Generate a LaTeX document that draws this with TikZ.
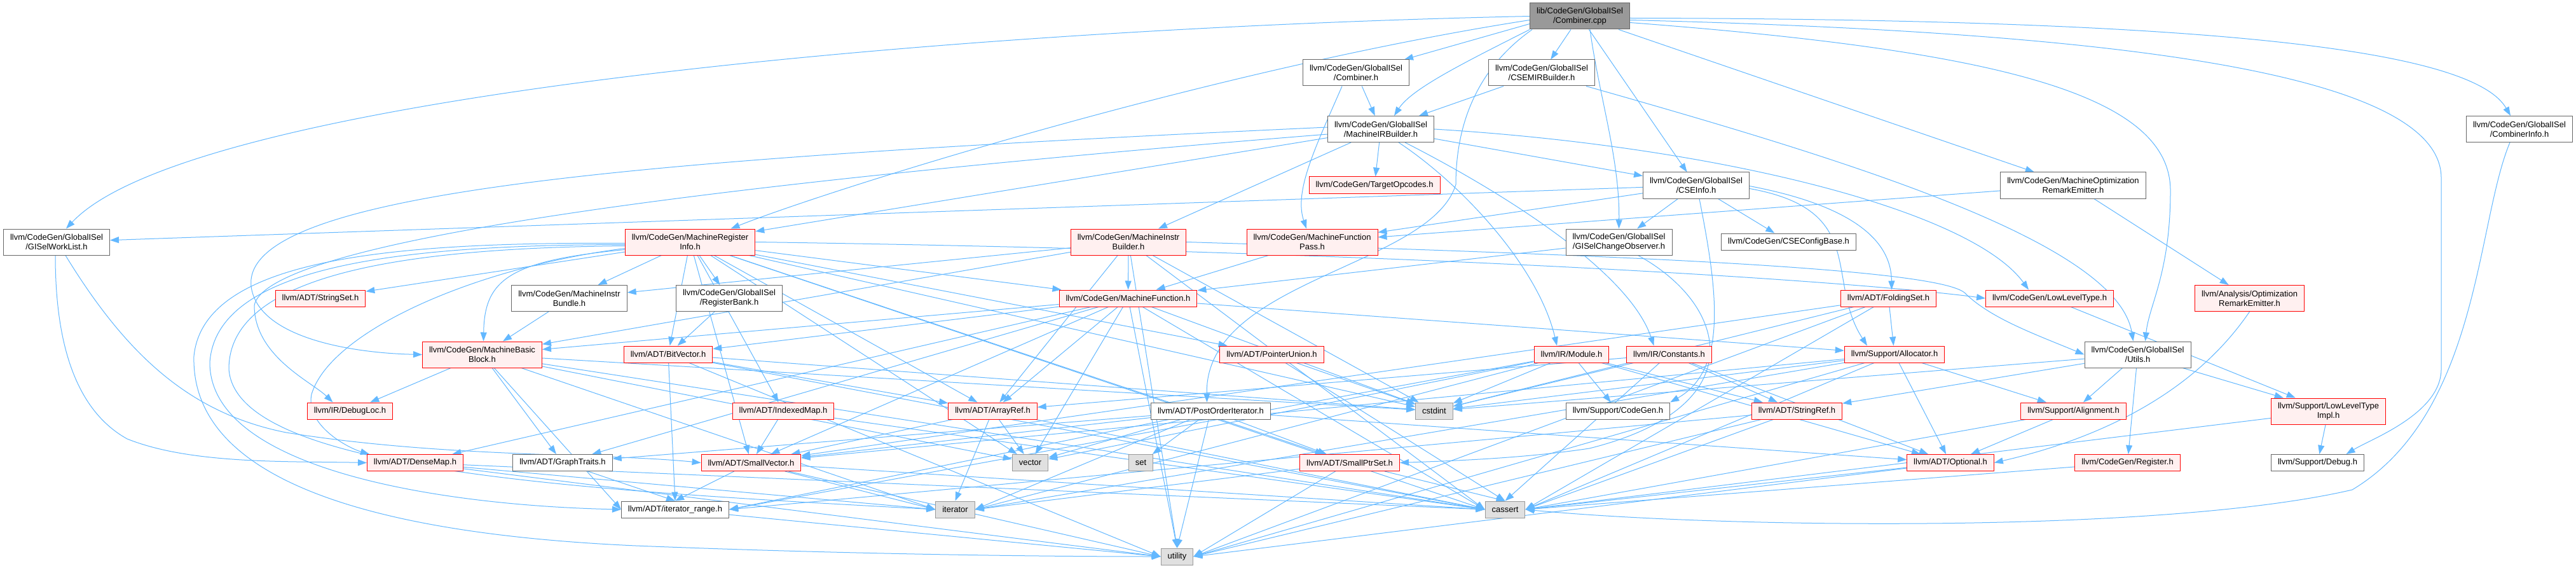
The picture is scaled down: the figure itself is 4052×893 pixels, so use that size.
\documentclass[tikz,border=0pt]{standalone}
\usepackage{fontspec}
\setmainfont{Liberation Sans}
\usetikzlibrary{arrows.meta,backgrounds}
\definecolor{edgec}{HTML}{63B8FF}
\definecolor{redfill}{HTML}{FFF0F0}
\definecolor{redline}{HTML}{FF0000}
\definecolor{leaffill}{HTML}{E0E0E0}
\definecolor{leafline}{HTML}{999999}
\definecolor{grayline}{HTML}{666666}
\definecolor{mainfill}{HTML}{999999}
\begin{document}
\begin{tikzpicture}[x=1pt,y=-1pt,
  box/.style={draw, line width=1pt, inner xsep=10.5pt, inner ysep=0pt, align=center, font=\fontsize{13}{15}\selectfont},
  oneline/.style={box, minimum height=26pt},
  twoline/.style={box, minimum height=41pt},
  rednode/.style={fill=redfill, draw=redline},
  whitenode/.style={fill=white, draw=grayline},
  leafnode/.style={fill=leaffill, draw=leafline},
  mainnode/.style={fill=mainfill, draw=grayline},
  dep/.style={draw=edgec, line width=1pt, -{Triangle[length=14pt,width=10pt]}},
]
\useasboundingbox (0,0) rectangle (4052,893);
\node[twoline,mainnode] (main) at (2485,25.5) {lib/CodeGen/GlobalISel\\/Combiner.cpp};
\node[twoline,whitenode] (combh) at (2133,114.5) {llvm/CodeGen/GlobalISel\\/Combiner.h};
\node[twoline,whitenode] (csemir) at (2425,114.5) {llvm/CodeGen/GlobalISel\\/CSEMIRBuilder.h};
\node[twoline,whitenode] (mirb) at (2172,203) {llvm/CodeGen/GlobalISel\\/MachineIRBuilder.h};
\node[twoline,whitenode] (cinfo) at (3963,203) {llvm/CodeGen/GlobalISel\\/CombinerInfo.h};
\node[oneline,rednode] (tgtop) at (2162,291) {llvm/CodeGen/TargetOpcodes.h};
\node[twoline,whitenode] (cseinfo) at (2668,291.5) {llvm/CodeGen/GlobalISel\\/CSEInfo.h};
\node[twoline,whitenode] (more) at (3261,291.5) {llvm/CodeGen/MachineOptimization\\RemarkEmitter.h};
\node[twoline,whitenode] (wl) at (89,380.5) {llvm/CodeGen/GlobalISel\\/GISelWorkList.h};
\node[twoline,rednode] (mri) at (1085.5,380.5) {llvm/CodeGen/MachineRegister\\Info.h};
\node[twoline,rednode] (mib) at (1775,380.5) {llvm/CodeGen/MachineInstr\\Builder.h};
\node[twoline,rednode] (mfp) at (2064,380.5) {llvm/CodeGen/MachineFunction\\Pass.h};
\node[twoline,whitenode] (gco) at (2546.5,380.5) {llvm/CodeGen/GlobalISel\\/GISelChangeObserver.h};
\node[oneline,whitenode] (csecfg) at (2813.5,380) {llvm/CodeGen/CSEConfigBase.h};
\node[oneline,rednode] (strset) at (504,469) {llvm/ADT/StringSet.h};
\node[twoline,whitenode] (mibundle) at (895.5,469) {llvm/CodeGen/MachineInstr\\Bundle.h};
\node[twoline,whitenode] (regbank) at (1147,469) {llvm/CodeGen/GlobalISel\\/RegisterBank.h};
\node[oneline,rednode] (mf) at (1774.5,469) {llvm/CodeGen/MachineFunction.h};
\node[oneline,rednode] (fold) at (2970.5,469) {llvm/ADT/FoldingSet.h};
\node[oneline,rednode] (llt) at (3224,469) {llvm/CodeGen/LowLevelType.h};
\node[twoline,rednode] (ore) at (3538.5,469) {llvm/Analysis/Optimization\\RemarkEmitter.h};
\node[twoline,rednode] (mbb) at (758.5,557.5) {llvm/CodeGen/MachineBasic\\Block.h};
\node[oneline,rednode] (bitvec) at (1051,557) {llvm/ADT/BitVector.h};
\node[oneline,rednode] (punion) at (2000.5,557) {llvm/ADT/PointerUnion.h};
\node[oneline,rednode] (module) at (2472,557) {llvm/IR/Module.h};
\node[oneline,rednode] (const) at (2625.5,557) {llvm/IR/Constants.h};
\node[oneline,rednode] (alloc) at (2980,557) {llvm/Support/Allocator.h};
\node[twoline,whitenode] (utils) at (3362.5,557.5) {llvm/CodeGen/GlobalISel\\/Utils.h};
\node[oneline,rednode] (dbgloc) at (550.5,646) {llvm/IR/DebugLoc.h};
\node[oneline,rednode] (idxmap) at (1232,646) {llvm/ADT/IndexedMap.h};
\node[oneline,rednode] (aref) at (1561.5,646) {llvm/ADT/ArrayRef.h};
\node[oneline,whitenode] (poi) at (1904.5,646) {llvm/ADT/PostOrderIterator.h};
\node[oneline,leafnode] (cstdint) at (2256,646) {cstdint};
\node[oneline,whitenode] (cgen) at (2545,646) {llvm/Support/CodeGen.h};
\node[oneline,rednode] (sref) at (2826.5,646) {llvm/ADT/StringRef.h};
\node[oneline,rednode] (align) at (3261.5,646) {llvm/Support/Alignment.h};
\node[twoline,rednode] (lltimpl) at (3662.5,646.5) {llvm/Support/LowLevelType\\Impl.h};
\node[oneline,rednode] (dmap) at (653,727.5) {llvm/ADT/DenseMap.h};
\node[oneline,whitenode] (gtraits) at (885,727.5) {llvm/ADT/GraphTraits.h};
\node[oneline,rednode] (svec) at (1181.5,727.5) {llvm/ADT/SmallVector.h};
\node[oneline,leafnode] (vector) at (1620.5,727.5) {vector};
\node[oneline,leafnode] (set) at (1794.5,727.5) {set};
\node[oneline,rednode] (sptrset) at (2123,727.5) {llvm/ADT/SmallPtrSet.h};
\node[oneline,rednode] (optional) at (3068,727.5) {llvm/ADT/Optional.h};
\node[oneline,rednode] (register) at (3346.5,727.5) {llvm/CodeGen/Register.h};
\node[oneline,whitenode] (debug) at (3645.5,727.5) {llvm/Support/Debug.h};
\node[oneline,whitenode] (itrange) at (1062,801) {llvm/ADT/iterator\_range.h};
\node[oneline,leafnode] (iterator) at (1502.5,801) {iterator};
\node[oneline,leafnode] (cassert) at (2367.5,801) {cassert};
\node[oneline,leafnode] (utility) at (1851.5,875) {utility};
\begin{pgfonlayer}{background}
\fill[white] (0,0) rectangle (4052,893);
% curved connectors
\draw[dep] (main.west) .. controls (1500,45) and (300,150) .. ([xshift=15pt]wl.north);
\draw[dep] ([yshift=-6pt]main.west) .. controls (1900,110) and (1300,300) .. ([xshift=64pt]mri.north);
\draw[dep] ([yshift=-12pt]main.west) -- ([xshift=-8pt]combh.north east);
\draw[dep] (main.south west) .. controls (2300,100) and (2220,140) .. ([xshift=21pt]mirb.north);
\draw[dep] ([xshift=16pt]main.south) .. controls (2515,150) and (2548,250) .. (gco.north);
\draw[dep] ([yshift=-3pt]main.east) .. controls (3500,30) and (3890,80) .. ([xshift=-14pt]cinfo.north);
\draw[dep] ([yshift=-6pt]main.east) .. controls (3300,50) and (3840,110) .. (3840,280) -- (3840,580) .. controls (3840,650) and (3730,690) .. ([xshift=45pt]debug.north);
\draw[dep] ([yshift=-10pt]main.east) .. controls (3150,80) and (3414,150) .. (3414,300) .. controls (3414,430) and (3380,480) .. ([xshift=12pt]utils.north);
\draw[dep] ([xshift=-75pt]main.south) .. controls (2320,110) and (2290,200) .. (2290,290) .. controls (2250,420) and (1895,440) .. ([xshift=-6pt]poi.north);
\draw[dep] ([xshift=-22pt]combh.south) .. controls (2070,230) and (2035,300) .. ([xshift=-9pt]mfp.north);
\draw[dep] ([xshift=70pt]csemir.south) .. controls (2900,250) and (3330,380) .. ([xshift=-7pt]utils.north);
\draw[dep] ([xshift=-15pt]cinfo.south) .. controls (3895,350) and (3900,650) .. (3700,770) .. controls (3400,840) and (2700,830) .. (cassert.east);
\draw[dep] (mirb.east) .. controls (2700,230) and (3100,330) .. ([xshift=-33pt]llt.north);
\draw[dep] ([yshift=3pt]mirb.west) .. controls (1000,250) and (380,300) .. (395,450) .. controls (405,530) and (550,555) .. (mbb.west);
\draw[dep] ([yshift=-8pt]mirb.west) .. controls (1100,290) and (420,380) .. (400,480) .. controls (400,560) and (490,600) .. ([xshift=-27pt]dbgloc.north);
\draw[dep] ([xshift=28pt]mirb.south) .. controls (2300,290) and (2420,420) .. ([xshift=-23pt]module.north);
\draw[dep] ([xshift=38pt]mirb.south) .. controls (2340,290) and (2560,420) .. ([xshift=-24pt]const.north);
\draw[dep] ([yshift=-5pt]cseinfo.east) .. controls (2940,330) and (2870,440) .. ([xshift=-43pt]alloc.north);
\draw[dep] ([yshift=-1pt]cseinfo.east) .. controls (2950,330) and (2975,400) .. ([xshift=5pt]fold.north);
\draw[dep] ([xshift=5pt]cseinfo.south) .. controls (2700,450) and (2720,580) .. (cgen.north east);
\draw[dep] (ore.south) .. controls (3450,620) and (3300,690) .. (optional.east);
\draw[dep] ([xshift=30pt]gco.south) .. controls (2720,480) and (2760,640) .. (2500,705) .. controls (2400,720) and (2300,724) .. (sptrset.east);
\draw[dep] (mri.east) .. controls (2200,395) and (2900,440) .. (llt.west);
\draw[dep] (mib.east) .. controls (2500,400) and (3040,420) .. (3090,460) .. controls (3130,500) and (3200,525) .. (utils.west);
\draw[dep] ([xshift=-2pt]wl.south) .. controls (87,520) and (110,640) .. (200,690) .. controls (300,730) and (450,725) .. (dmap.west);
\draw[dep] ([xshift=14pt]wl.south) .. controls (200,560) and (300,650) .. (450,680) .. controls (700,720) and (950,712) .. (svec.west);
\draw[dep] ([yshift=-2pt]mri.west) .. controls (600,380) and (320,410) .. (305,560) .. controls (300,760) and (600,840) .. (1000,858) .. controls (1300,870) and (1600,875) .. (utility.west);
\draw[dep] ([yshift=-4pt]mri.west) .. controls (620,385) and (340,420) .. (330,570) .. controls (330,740) and (700,795) .. (itrange.west);
\draw[dep] ([yshift=-6pt]mri.west) .. controls (640,390) and (360,430) .. (360,580) .. controls (370,740) and (900,770) .. (iterator.west);
\draw[dep] ([yshift=-10pt]mri.west) .. controls (750,420) and (520,520) .. (490,620) .. controls (480,670) and (550,705) .. ([xshift=-72pt]dmap.north);
\draw[dep] ([yshift=-12pt]mri.west) .. controls (800,410) and (762,440) .. ([xshift=2pt]mbb.north);
% straight connectors, to node centre
\foreach \s/\t in {main/csemir, main/cseinfo, main/more,
  combh/mirb, csemir/mirb, mirb/cseinfo, mirb/mri, mirb/mib, mirb/tgtop,
  cseinfo/wl, cseinfo/mfp, cseinfo/gco, cseinfo/csecfg, more/mfp, more/ore,
  mri/aref, mri/bitvec, mri/idxmap, mri/punion, mri/sptrset, mri/svec, mri/strset, mri/regbank,
  mri/mf, mri/mibundle, mri/cstdint, mri/vector,
  mib/aref, mib/mbb, mib/mf, mib/mibundle, mib/cstdint,
  mfp/mf, gco/mf, mibundle/mbb, regbank/bitvec,
  mf/aref, mf/bitvec, mf/dmap, mf/gtraits, mf/svec, mf/mbb, mf/alloc, mf/cstdint, mf/vector,
  fold/svec, fold/alloc, fold/cstdint, llt/lltimpl,
  mbb/gtraits, mbb/dbgloc, mbb/cstdint, mbb/vector,
  bitvec/aref, bitvec/cstdint, punion/cstdint,
  module/optional, module/sref, module/cgen, module/cstdint, module/vector,
  const/aref, const/optional, const/sref, const/cstdint,
  alloc/optional, alloc/svec, alloc/align, alloc/cstdint,
  utils/sref, utils/register, utils/align, utils/lltimpl, utils/cstdint,
  idxmap/svec, aref/svec, aref/vector,
  poi/gtraits, poi/optional, poi/sptrset, poi/svec, poi/set, poi/vector,
  align/optional, lltimpl/debug}
  \draw[dep] (\s) -- (\t);
% connectors entering a leaf from its left side
\foreach \s/\t in {bitvec/utility, dmap/utility, svec/utility, itrange/utility,
  mri/cassert, mib/cassert, mf/cassert, mbb/cassert, bitvec/cassert, idxmap/cassert, aref/cassert, dmap/cassert, svec/cassert,
  mbb/iterator, dmap/iterator, svec/iterator, mbb/itrange}
  \draw[dep] (\s) -- (\t.west);
% connectors entering a leaf from above
\foreach \s/\t in {mib/utility, mf/utility, poi/utility, punion/cassert, sptrset/cassert, const/cassert,
  aref/iterator, gtraits/itrange, svec/itrange, bitvec/itrange}
  \draw[dep] (\s) -- (\t.north);
% connectors entering a leaf from its right side
\foreach \s/\t in {fold/utility, alloc/utility, sref/utility, sptrset/utility, optional/utility,
  fold/cassert, alloc/cassert, sref/cassert, align/cassert, lltimpl/cassert, optional/cassert, register/cassert,
  module/iterator, alloc/iterator, poi/iterator, sptrset/iterator,
  module/itrange, poi/itrange, sref/itrange}
  \draw[dep] (\s) -- (\t.east);
\end{pgfonlayer}
\end{tikzpicture}
\end{document}
